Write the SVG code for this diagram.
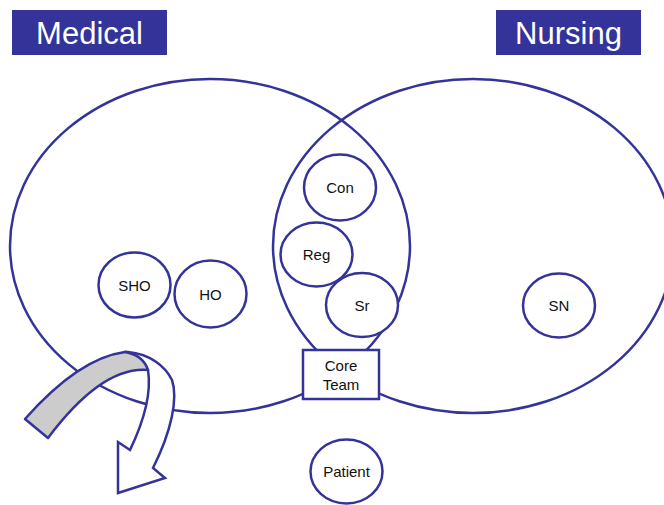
<svg xmlns="http://www.w3.org/2000/svg" width="664" height="505" viewBox="0 0 664 505">
<style>
.ln{fill:none;stroke:#333399;stroke-width:2.5}
.nd{fill:#fff;stroke:#333399;stroke-width:2.5}
.t{font-family:"Liberation Sans",Arial,sans-serif;font-size:15px;fill:#111;text-anchor:middle}
.h{font-family:"Liberation Sans",Arial,sans-serif;font-size:31px;fill:#fff;text-anchor:middle}
</style>
<rect x="0" y="0" width="664" height="505" fill="#fff"/>
<g id="medical-label"><rect x="12" y="10" width="155" height="45" fill="#333399"/><text class="h" x="89.5" y="44">Medical</text></g>
<g id="nursing-label"><rect x="496" y="10" width="145" height="45" fill="#333399"/><text class="h" x="568.5" y="44">Nursing</text></g>
<g id="medical-set"><ellipse class="ln" cx="210" cy="246" rx="200" ry="167"/></g>
<g id="nursing-set"><ellipse class="ln" cx="473" cy="246" rx="200" ry="167"/></g>
<g id="con"><ellipse class="nd" cx="340" cy="187.5" rx="36" ry="33"/><text class="t" x="340" y="193">Con</text></g>
<g id="reg"><ellipse class="nd" cx="316.5" cy="254.5" rx="36" ry="32"/><text class="t" x="316.5" y="260">Reg</text></g>
<g id="sr"><ellipse class="nd" cx="362" cy="305" rx="36" ry="32"/><text class="t" x="362" y="310.5">Sr</text></g>
<g id="sho"><ellipse class="nd" cx="134.5" cy="285" rx="36" ry="32.5"/><text class="t" x="134.5" y="290.5">SHO</text></g>
<g id="ho"><ellipse class="nd" cx="210.5" cy="294" rx="36" ry="33.5"/><text class="t" x="210.5" y="299.5">HO</text></g>
<g id="sn"><ellipse class="nd" cx="559" cy="305.5" rx="36" ry="32"/><text class="t" x="559" y="311">SN</text></g>
<g id="patient"><ellipse class="nd" cx="346.5" cy="471.5" rx="36" ry="32"/><text class="t" x="346.5" y="477">Patient</text></g>
<g id="core-team"><rect class="nd" x="303" y="350" width="76" height="49"/><text class="t" x="341" y="371">Core</text><text class="t" x="341" y="390">Team</text></g>
<g id="connectors">
<path class="nd" d="M128,352 C150,354 165,366 172,380 C178,398 172,430 153,468 L165,478 L118,493 L118,442 L130,450 C142,425 152,395 148,370 Z"/>
<path d="M25,419 Q79,358 125,352 Q143,355 148,370 Q102,366 48,438 Z" fill="#cccccc" stroke="#333399" stroke-width="2.5" stroke-linejoin="round"/>
</g>
</svg>
